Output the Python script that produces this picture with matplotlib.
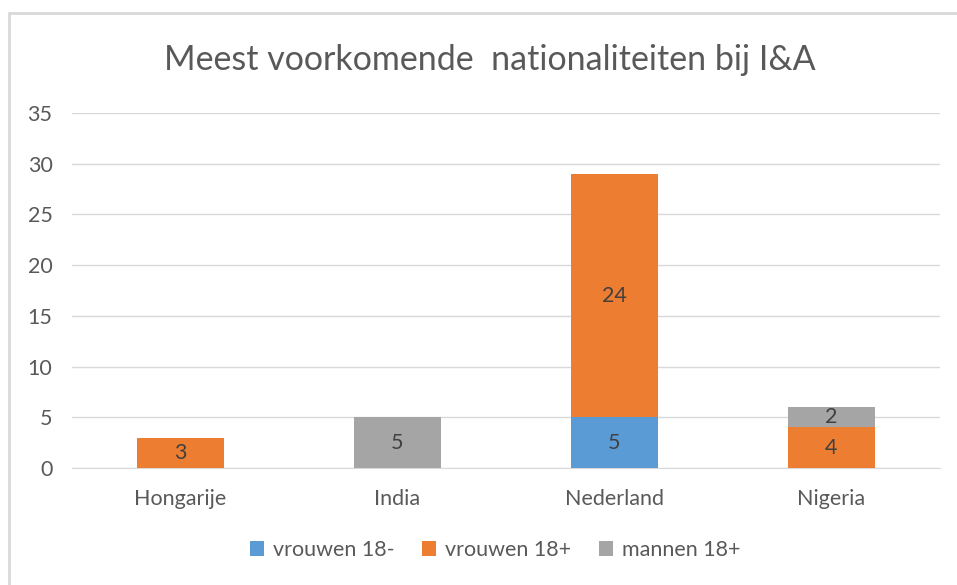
import matplotlib

matplotlib.use("Agg")
import matplotlib.pyplot as plt
import numpy as np
from matplotlib.patches import Rectangle

plt.rcParams["font.family"] = ["Lato", "DejaVu Sans"]

categories = ["Hongarije", "India", "Nederland", "Nigeria"]
series_names = ["vrouwen 18-", "vrouwen 18+", "mannen 18+"]
vrouwen_min18 = [0, 0, 5, 0]
vrouwen_plus18 = [3, 0, 24, 4]
mannen_plus18 = [0, 5, 0, 2]
colors = ["#5B9BD5", "#ED7D31", "#A5A5A5"]
yticks = [0, 5, 10, 15, 20, 25, 30, 35]

TXT = "#595959"
FS = 15.5

fig = plt.figure(figsize=(9.57, 5.85), dpi=100)
ax = fig.add_axes([0.0752, 0.2, 0.9068, 0.6068])

# chart frame (top and left edge visible, rest runs off the screenshot)
fig.patches.append(Rectangle((9 / 957, -0.1), 1.1, (585 - 13) / 585 + 0.1,
                             transform=fig.transFigure, fill=False,
                             edgecolor="#D9D9D9", linewidth=2))

x = np.arange(len(categories))
bottom = np.zeros(len(categories))
for name, vals, col in zip(series_names, [vrouwen_min18, vrouwen_plus18, mannen_plus18], colors):
    vals = np.array(vals, dtype=float)
    bars = ax.bar(x, vals, 0.4, bottom=bottom, color=col, label=name, zorder=3)
    for b, v, b0 in zip(bars, vals, bottom):
        if v > 0:
            ax.text(b.get_x() + b.get_width() / 2, b0 + v / 2, f"{int(v)}",
                    ha="center", va="center", fontsize=FS, color="#404040", zorder=4)
    bottom += vals

ax.set_xlim(-0.5, 3.5)
ax.set_ylim(0, 35)
ax.set_yticks(yticks)
ax.set_xticks(x)
ax.set_xticklabels(categories)
ax.tick_params(axis="both", length=0, labelsize=FS, labelcolor=TXT)
ax.tick_params(axis="y", pad=14)
ax.tick_params(axis="x", pad=15)
ax.grid(axis="y", color="#D9D9D9", linewidth=1, zorder=0)
for s in ["top", "right", "left"]:
    ax.spines[s].set_visible(False)
ax.spines["bottom"].set_color("#D9D9D9")

fig.text(490 / 957, 1 - 60 / 585, "Meest voorkomende  nationaliteiten bij I&A",
         ha="center", va="center", fontsize=24.5, color=TXT)

fig.legend(loc="center", bbox_to_anchor=(495 / 957, 1 - 550 / 585), ncol=3, frameon=False,
           fontsize=FS, labelcolor=TXT, handlelength=0.65, handleheight=0.65,
           handletextpad=0.4, columnspacing=1.3)

fig.savefig("out.png", dpi=100)
